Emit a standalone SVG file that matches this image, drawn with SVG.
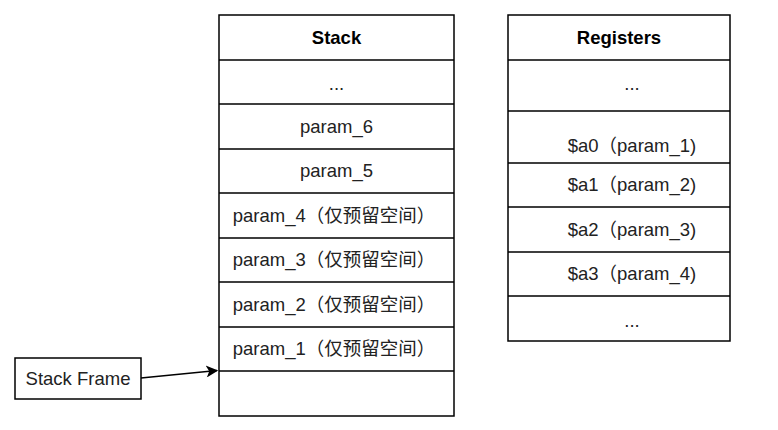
<svg xmlns="http://www.w3.org/2000/svg" width="778" height="430" viewBox="0 0 778 430">
<defs>
<style>
.box{fill:#fff;stroke:#000;stroke-width:1.5}
.ln{stroke:#000;stroke-width:1.5;fill:none}
text{font-family:"Liberation Sans","Noto Sans CJK SC",sans-serif;font-size:18.5px;fill:#222;text-anchor:middle}
.b{font-weight:bold;fill:#000}
</style>
<marker id="ah" viewBox="0 0 10 10" refX="9" refY="5" markerWidth="13" markerHeight="12" markerUnits="userSpaceOnUse" orient="auto">
<path d="M0,0 L10,5 L0,10 L2.5,5 Z" fill="#000"/>
</marker>
</defs>
<rect width="778" height="430" fill="#fff"/>
<g id="stack">
<rect class="box" x="219" y="15" width="235" height="401"/>
<path class="ln" d="M219,60H454M219,104H454M219,149H454M219,193H454M219,238H454M219,282H454M219,327H454M219,371H454"/>
<text class="b" x="336.5" y="44">Stack</text>
<text x="336.5" y="90">...</text>
<text x="336.5" y="133">param_6</text>
<text x="336.5" y="177">param_5</text>
<text x="334" y="222">param_4（仅预留空间）</text>
<text x="334" y="266">param_3（仅预留空间）</text>
<text x="334" y="311">param_2（仅预留空间）</text>
<text x="334" y="355">param_1（仅预留空间）</text>
</g>
<g id="registers">
<rect class="box" x="508" y="15" width="222" height="326"/>
<path class="ln" d="M508,60H730M508,111H730M508,163H730M508,207H730M508,252H730M508,296H730"/>
<text class="b" x="619" y="44">Registers</text>
<text x="632" y="90">...</text>
<text x="632" y="152">$a0（param_1)</text>
<text x="632" y="191">$a1（param_2)</text>
<text x="632" y="236">$a2（param_3)</text>
<text x="632" y="280">$a3（param_4)</text>
<text x="632" y="327">...</text>
</g>
<g id="stack-frame">
<rect class="box" x="15" y="358" width="126" height="41"/>
<text x="78" y="385">Stack Frame</text>
</g>
<g id="connectors">
<path class="ln" d="M141,378L217,370.5" marker-end="url(#ah)"/>
</g>
</svg>
